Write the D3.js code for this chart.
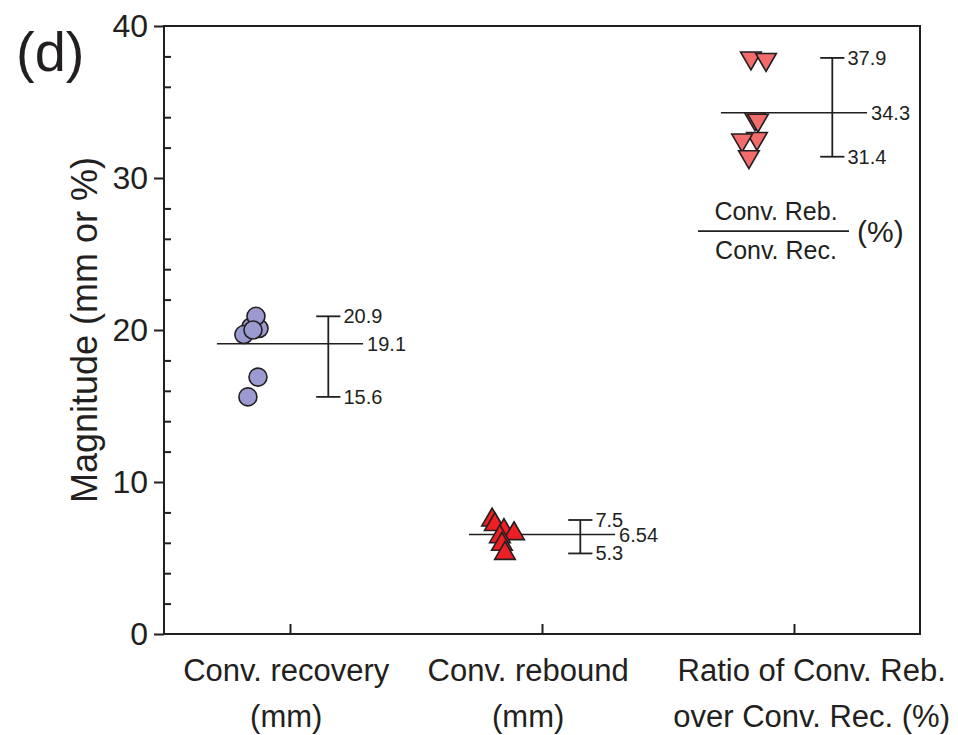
<!DOCTYPE html>
<html>
<head>
<meta charset="utf-8">
<script src="https://cdn.jsdelivr.net/npm/d3@7"></script>
<style>
  body { margin: 0; background: #fff; }
  svg { display: block; font-family: "Liberation Sans", Arial, Helvetica, sans-serif; }
</style>
</head>
<body>
<div id="chart"></div>
<script>
// categories (two label lines each)
const categories = [
    ["Conv. recovery", "(mm)"],
    ["Conv. rebound", "(mm)"],
    ["Ratio of Conv. Reb.", "over Conv. Rec. (%)"]
];

// individual samples per group, with a small horizontal jitter (in category units)
const recovery = [20.2, 20.1, 19.7, 20.9, 20.0, 16.9, 15.6];
const recoveryJitter = [-0.155, -0.123, -0.183, -0.135, -0.147, -0.127, -0.167];

const rebound = [7.5, 7.2, 6.8, 6.6, 6.4, 5.9, 5.3];
const reboundJitter = [-0.198, -0.187, -0.151, -0.111, -0.167, -0.159, -0.147];

const ratio = [37.9, 37.8, 33.9, 33.8, 32.6, 32.5, 31.4];
const ratioJitter = [-0.171, -0.111, -0.155, -0.143, -0.147, -0.206, -0.179];

// summary statistics shown beside each group
const maxVals = [20.9, 7.5, 37.9];
const meanVals = [19.1, 6.54, 34.3];
const minVals = [15.6, 5.3, 31.4];
const maxLabels = ["20.9", "7.5", "37.9"];
const meanLabels = ["19.1", "6.54", "34.3"];
const minLabels = ["15.6", "5.3", "31.4"];

const yTicks = [0, 10, 20, 30, 40];
const yMinorTicks = [2, 4, 6, 8, 12, 14, 16, 18, 22, 24, 26, 28, 32, 34, 36, 38];

const width = 958, height = 735;
const margin = { top: 26, right: 38, bottom: 101, left: 164 };
const ink = "#231f20";
const labelShift = [-0.015, -0.055, 0.07]; // category label nudges, in category units

const svg = d3.select("#chart").append("svg")
    .attr("width", width).attr("height", height);

const x = d3.scaleLinear().domain([-0.5, 2.5]).range([margin.left, width - margin.right]);
const y = d3.scaleLinear().domain([0, 40]).range([height - margin.bottom, margin.top]);

// frame
svg.append("rect")
    .attr("x", x(-0.5)).attr("y", y(40))
    .attr("width", x(2.5) - x(-0.5)).attr("height", y(0) - y(40))
    .attr("fill", "none").attr("stroke", ink).attr("stroke-width", 2);

// y axis, major ticks outward
const yAxis = svg.append("g")
    .attr("transform", `translate(${margin.left},0)`)
    .call(d3.axisLeft(y).tickValues(yTicks).tickSize(10).tickSizeOuter(0).tickPadding(6));
yAxis.select(".domain").remove();
yAxis.selectAll("line").attr("stroke", ink).attr("stroke-width", 2);
yAxis.selectAll("text").attr("fill", ink).style("font-size", "32px");

// minor ticks inward
const yMinor = svg.append("g")
    .attr("transform", `translate(${margin.left},0)`)
    .call(d3.axisRight(y).tickValues(yMinorTicks).tickSize(7).tickFormat(""));
yMinor.select(".domain").remove();
yMinor.selectAll("line").attr("stroke", ink).attr("stroke-width", 2);

// x axis, ticks inward
const xAxis = svg.append("g")
    .attr("transform", `translate(0,${y(0)})`)
    .call(d3.axisBottom(x).tickValues([0, 1, 2]).tickSizeInner(-10).tickSizeOuter(0).tickFormat(""));
xAxis.select(".domain").remove();
xAxis.selectAll("line").attr("stroke", ink).attr("stroke-width", 2);

const catText = svg.append("g").selectAll("text")
    .data(categories).join("text")
    .attr("text-anchor", "middle")
    .attr("fill", ink)
    .style("font-size", "31px");
catText.selectAll("tspan")
    .data((d, i) => d.map(line => ({ line, i })))
    .join("tspan")
    .attr("x", d => x(d.i + labelShift[d.i]))
    .attr("y", (d, j) => y(0) + 47 + j * 46)
    .text(d => d.line);

// y title
svg.append("text")
    .attr("transform", `translate(97,${(y(0) + y(40)) / 2}) rotate(-90)`)
    .attr("text-anchor", "middle")
    .attr("fill", ink)
    .style("font-size", "36px")
    .text("Magnitude (mm or %)");

// panel label
svg.append("text")
    .attr("x", 16).attr("y", 71)
    .attr("fill", ink)
    .style("font-size", "56px")
    .text("(d)");

// summary: mean line, min-max bar, caps and labels
const meanHalf = 0.29, barOff = 0.152, capHalf = 0.048;
const stats = svg.append("g").attr("stroke", ink).attr("fill", "none");
meanVals.forEach((m, i) => {
    stats.append("line")
        .attr("x1", x(i - meanHalf)).attr("x2", x(i + meanHalf))
        .attr("y1", y(m)).attr("y2", y(m))
        .attr("stroke-width", 1.5);
    stats.append("line")
        .attr("x1", x(i + barOff)).attr("x2", x(i + barOff))
        .attr("y1", y(maxVals[i])).attr("y2", y(minVals[i]))
        .attr("stroke-width", 1.8);
    [maxVals[i], minVals[i]].forEach(v => {
        stats.append("line")
            .attr("x1", x(i + barOff - capHalf)).attr("x2", x(i + barOff + capHalf))
            .attr("y1", y(v)).attr("y2", y(v))
            .attr("stroke-width", 1.8);
    });
});

const statLabels = svg.append("g").attr("fill", ink).style("font-size", "20px");
meanVals.forEach((m, i) => {
    statLabels.append("text")
        .attr("x", x(i + barOff + capHalf) + 3).attr("y", y(maxVals[i])).attr("dy", "0.35em")
        .text(maxLabels[i]);
    statLabels.append("text")
        .attr("x", x(i + barOff + capHalf) + 3).attr("y", y(minVals[i])).attr("dy", "0.35em")
        .text(minLabels[i]);
    statLabels.append("text")
        .attr("x", x(i + meanHalf) + 4).attr("y", y(m)).attr("dy", "0.35em")
        .text(meanLabels[i]);
});

// sample markers
const markers = svg.append("g").attr("stroke", ink).attr("stroke-width", 1.6);

markers.selectAll(".rec").data(recovery).join("circle")
    .attr("class", "rec")
    .attr("cx", (d, i) => x(0 + recoveryJitter[i]))
    .attr("cy", d => y(d))
    .attr("r", 9)
    .attr("fill", "#9b9bd1");

const tri = d3.symbol().type(d3.symbolTriangle).size(185);

markers.selectAll(".reb").data(rebound).join("path")
    .attr("class", "reb")
    .attr("d", tri)
    .attr("transform", (d, i) => `translate(${x(1 + reboundJitter[i])},${y(d)})`)
    .attr("fill", "#ec2024");

markers.selectAll(".rat").data(ratio).join("path")
    .attr("class", "rat")
    .attr("d", tri)
    .attr("transform", (d, i) => `translate(${x(2 + ratioJitter[i])},${y(d)}) rotate(180)`)
    .attr("fill", "#f26c6c");

// fraction note for the ratio group
const frac = svg.append("g").attr("fill", ink);
const fracX = x(2) - 18, fracY = y(26.5);
frac.append("text")
    .attr("x", fracX).attr("y", fracY - 11)
    .attr("text-anchor", "middle").style("font-size", "25px")
    .text("Conv. Reb.");
frac.append("line")
    .attr("x1", fracX - 78).attr("x2", fracX + 73)
    .attr("y1", fracY).attr("y2", fracY)
    .attr("stroke", ink).attr("stroke-width", 1.8);
frac.append("text")
    .attr("x", fracX).attr("y", fracY + 28)
    .attr("text-anchor", "middle").style("font-size", "25px")
    .text("Conv. Rec.");
frac.append("text")
    .attr("x", fracX + 81).attr("y", fracY + 11)
    .style("font-size", "30px")
    .text("(%)");
</script>
</body>
</html>
